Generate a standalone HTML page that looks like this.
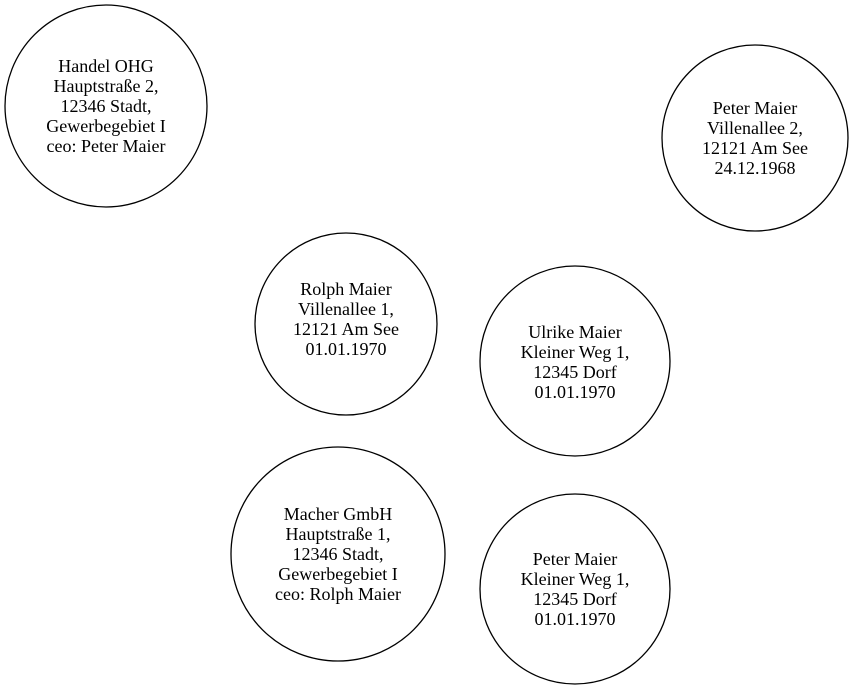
<!DOCTYPE html>
<html><head><meta charset="utf-8"><style>
html,body{margin:0;padding:0;background:#fff;width:852px;height:689px;overflow:hidden}
text{font-family:"Liberation Serif",serif;font-size:18px;fill:#000;text-anchor:middle}
circle{fill:none;stroke:#000;stroke-width:1.3}
</style></head><body>
<svg width="852" height="689" viewBox="0 0 852 689" xmlns="http://www.w3.org/2000/svg">
<circle cx="106" cy="106" r="101"/>
<text x="106" y="72">Handel OHG</text>
<text x="106" y="92">Hauptstraße 2,</text>
<text x="106" y="112">12346 Stadt,</text>
<text x="106" y="132">Gewerbegebiet I</text>
<text x="106" y="152">ceo: Peter Maier</text>

<circle cx="755" cy="138" r="93"/>
<text x="755" y="114">Peter Maier</text>
<text x="755" y="134">Villenallee 2,</text>
<text x="755" y="154">12121 Am See</text>
<text x="755" y="174">24.12.1968</text>

<circle cx="346" cy="324" r="91"/>
<text x="346" y="295">Rolph Maier</text>
<text x="346" y="315">Villenallee 1,</text>
<text x="346" y="335">12121 Am See</text>
<text x="346" y="355">01.01.1970</text>

<circle cx="575" cy="361" r="95"/>
<text x="575" y="338">Ulrike Maier</text>
<text x="575" y="358">Kleiner Weg 1,</text>
<text x="575" y="378">12345 Dorf</text>
<text x="575" y="398">01.01.1970</text>

<circle cx="338" cy="554" r="107"/>
<text x="338" y="520">Macher GmbH</text>
<text x="338" y="540">Hauptstraße 1,</text>
<text x="338" y="560">12346 Stadt,</text>
<text x="338" y="580">Gewerbegebiet I</text>
<text x="338" y="600">ceo: Rolph Maier</text>

<circle cx="575" cy="589" r="95"/>
<text x="575" y="565">Peter Maier</text>
<text x="575" y="585">Kleiner Weg 1,</text>
<text x="575" y="605">12345 Dorf</text>
<text x="575" y="625">01.01.1970</text>
</svg>
</body></html>
